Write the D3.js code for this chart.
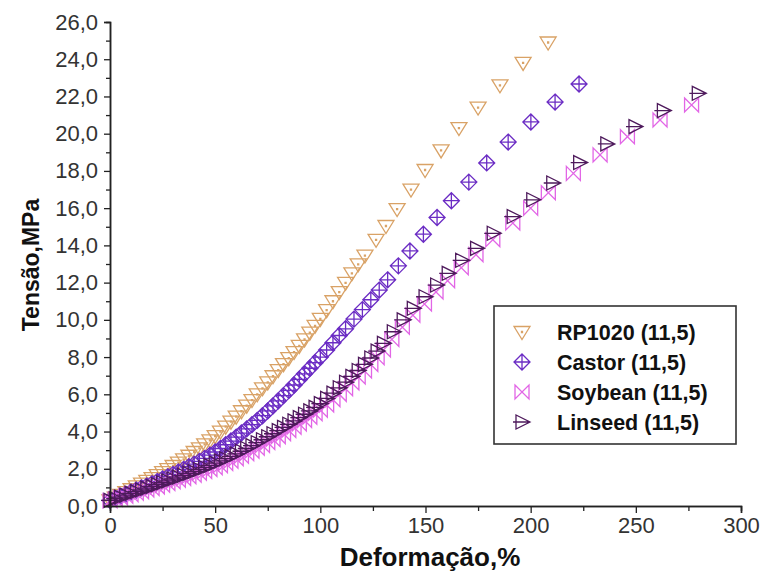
<!DOCTYPE html>
<html>
<head>
<meta charset="utf-8">
<script src="https://cdn.jsdelivr.net/npm/d3@7"></script>
<style>
  html, body { margin: 0; padding: 0; background: #fff; }
  svg { display: block; font-family: "Liberation Sans", Arial, sans-serif; }
</style>
</head>
<body>
<svg id="chart" width="771" height="573"></svg>
<script>
// Stress–strain curves (Tensão in MPa vs Deformação in %)
const strainRP1020 = [0,2.5,5,7.5,10,12.5,15,17.5,20,22.5,25,27.5,30,32.5,35,37.5,40,42.5,45,47.5,50,52.5,55,57.5,60,62.5,65,67.5,70,72.5,75,77.5,80,82.5,85,87.5,90,92.5,95,97.5,100,103,106,109,112,115,118,121.2,126.5,131.2,136.5,143.1,149.8,157.4,165.9,175,185.4,196.4,208.3];
const stressRP1020 = [0.30,0.45,0.60,0.75,0.90,1.05,1.20,1.35,1.50,1.66,1.82,1.98,2.15,2.33,2.51,2.70,2.90,3.10,3.31,3.53,3.75,4.00,4.26,4.53,4.80,5.09,5.39,5.69,6.00,6.32,6.64,6.97,7.30,7.62,7.94,8.27,8.60,8.95,9.31,9.68,10.05,10.52,11.00,11.49,11.99,12.50,12.98,13.45,14.30,15.04,15.95,17.00,18.05,19.10,20.30,21.40,22.60,23.80,24.90];

const strainCastor = [0,2.5,5,7.5,10,12.5,15,17.5,20,22.5,25,27.5,30,32.5,35,37.5,40,42.5,45,47.5,50,52.5,55,57.5,60,62.5,65,67.5,70,72.5,75,77.5,80,82.5,85,87.5,90,92.5,95,97.5,100,103,106,109,112,116,120,124,128,132,137.1,142.6,149,155.5,162.3,170.6,179.1,189.3,200.1,211.6,223];
const stressCastor = [0.30,0.41,0.52,0.63,0.75,0.86,0.97,1.08,1.20,1.32,1.45,1.57,1.70,1.83,1.97,2.11,2.25,2.40,2.56,2.73,2.90,3.09,3.29,3.49,3.70,3.92,4.14,4.37,4.60,4.85,5.11,5.38,5.65,5.93,6.21,6.50,6.80,7.10,7.40,7.70,8.00,8.38,8.77,9.16,9.52,10.04,10.55,11.08,11.60,12.15,12.90,13.70,14.60,15.50,16.40,17.40,18.43,19.55,20.63,21.70,22.67];

const strainSoybean = [0,2.5,5,7.5,10,12.5,15,17.5,20,22.5,25,27.5,30,32.5,35,37.5,40,42.5,45,47.5,50,52.5,55,57.5,60,62.5,65,67.5,70,72.5,75,77.5,80,82.5,85,87.5,90,92.5,95,97.5,100,103,106,109,112,115,118,121,124,127,130,134,139,144,149.5,155,160.5,167,174,182,191.5,200,208.4,220.3,233,246,261.5,276.5];
const stressSoybean = [0.28,0.36,0.44,0.53,0.61,0.69,0.77,0.86,0.94,1.03,1.12,1.21,1.30,1.39,1.48,1.57,1.66,1.76,1.86,1.96,2.06,2.17,2.29,2.41,2.54,2.67,2.81,2.95,3.10,3.25,3.41,3.57,3.73,3.89,4.06,4.23,4.41,4.59,4.77,4.96,5.15,5.43,5.71,6.00,6.30,6.61,6.93,7.26,7.60,7.97,8.38,8.95,9.60,10.25,10.85,11.50,12.10,12.80,13.50,14.30,15.20,16.00,16.83,17.87,18.86,19.84,20.74,21.54];

const strainLinseed = [0,2.5,5,7.5,10,12.5,15,17.5,20,22.5,25,27.5,30,32.5,35,37.5,40,42.5,45,47.5,50,52.5,55,57.5,60,62.5,65,67.5,70,72.5,75,77.5,80,82.5,85,87.5,90,92.5,95,97.5,100,103,106,109,112,115,118,121,124,127,130,134.7,139.4,144.2,149.8,155.3,160.8,167.2,174.3,182.2,191.7,201,210.5,223.3,236.2,249.6,263.1,279.7];
const stressLinseed = [0.30,0.39,0.48,0.58,0.68,0.77,0.86,0.96,1.05,1.15,1.25,1.35,1.45,1.55,1.65,1.75,1.85,1.96,2.07,2.18,2.30,2.42,2.54,2.67,2.80,2.94,3.09,3.24,3.40,3.56,3.72,3.88,4.05,4.22,4.39,4.57,4.75,4.93,5.11,5.30,5.50,5.78,6.06,6.35,6.65,6.96,7.28,7.61,7.95,8.32,8.74,9.36,10.00,10.62,11.24,11.87,12.50,13.20,13.84,14.65,15.55,16.45,17.35,18.45,19.45,20.38,21.24,22.17];

const seriesNames = ["RP1020 (11,5)", "Castor (11,5)", "Soybean (11,5)", "Linseed (11,5)"];
const yTicks = [0,2,4,6,8,10,12,14,16,18,20,22,24,26];
const yMinorTicks = [1,3,5,7,9,11,13,15,17,19,21,23,25];
const xTicks = [0,50,100,150,200,250,300];
const xMinorTicks = [25,75,125,175,225,275];

// Marker outlines, centred on the data point
const markers = {
  triDown: "M-8,-5.5L8,-5.5L0,7.5Z M-0.5,-0.5h1v1h-1Z",
  diamondPlus: "M0,-8L8,0L0,8L-8,0Z M0,-8V8 M-8,0H8",
  bowtie: "M-7,-7L7,7L7,-7L-7,7Z",
  triRight: "M-6,-7L8,0L-6,7Z M-9,0H8"
};

const series = [
  { name: seriesNames[0], x: strainRP1020, y: stressRP1020, color: "#d9a266", marker: markers.triDown },
  { name: seriesNames[1], x: strainCastor, y: stressCastor, color: "#6b2cc4", marker: markers.diamondPlus },
  { name: seriesNames[2], x: strainSoybean, y: stressSoybean, color: "#e266e6", marker: markers.bowtie },
  { name: seriesNames[3], x: strainLinseed, y: stressLinseed, color: "#4e1a5c", marker: markers.triRight }
];

const svg = d3.select("#chart");
const x = d3.scaleLinear().domain([0, 300]).range([110, 741]);
const y = d3.scaleLinear().domain([0, 26]).range([506, 22]);

const fmt = d => d.toFixed(1).replace(".", ",");

// Data markers
series.forEach(s => {
  const pts = s.x.map((v, i) => [v, s.y[i]]);
  svg.append("g")
    .selectAll("path")
    .data(pts)
    .join("path")
    .attr("transform", d => `translate(${x(d[0])},${y(d[1])})`)
    .attr("d", s.marker)
    .attr("fill", "none")
    .attr("stroke", s.color)
    .attr("stroke-width", 1.3);
});

// Axes
const axisColor = "#222";
svg.append("g").attr("transform", `translate(${x(0)},0)`)
  .call(d3.axisLeft(y).tickValues(yTicks).tickFormat(fmt).tickSize(6).tickPadding(6));
svg.append("g").attr("transform", `translate(${x(0)},0)`)
  .call(d3.axisLeft(y).tickValues(yMinorTicks).tickFormat("").tickSize(4));

svg.append("g").attr("transform", `translate(0,${y(0)})`)
  .call(d3.axisBottom(x).tickValues(xTicks).tickFormat(d3.format("d")).tickSize(7).tickPadding(4));
svg.append("g").attr("transform", `translate(0,${y(0)})`)
  .call(d3.axisBottom(x).tickValues(xMinorTicks).tickFormat("").tickSize(5));

svg.selectAll(".domain").attr("stroke", axisColor).attr("stroke-width", 1.5);
svg.selectAll(".tick line").attr("stroke", axisColor).attr("stroke-width", 1.3);
svg.selectAll(".tick text")
  .attr("fill", "#333")
  .style("font-size", "22px")
  .style("font-family", "'Liberation Sans', Arial, sans-serif");

// Axis titles
svg.append("text")
  .attr("x", 430).attr("y", 566)
  .attr("text-anchor", "middle")
  .style("font-size", "26px").style("font-weight", "bold")
  .attr("fill", "#111")
  .text("Deformação,%");

svg.append("text")
  .attr("transform", "translate(39,265) rotate(-90)")
  .attr("text-anchor", "middle")
  .style("font-size", "23px").style("font-weight", "bold")
  .attr("fill", "#111")
  .text("Tensão,MPa");

// Legend
const legend = svg.append("g");
legend.append("rect")
  .attr("x", 494).attr("y", 306).attr("width", 242).attr("height", 138)
  .attr("fill", "#fff").attr("stroke", "#333").attr("stroke-width", 1.6);
series.forEach((s, i) => {
  const ly = 332 + i * 30;
  legend.append("path")
    .attr("transform", `translate(522,${ly})`)
    .attr("d", s.marker)
    .attr("fill", "none").attr("stroke", s.color).attr("stroke-width", 1.3);
  legend.append("text")
    .attr("x", 557).attr("y", ly + 7.5)
    .style("font-size", "21.5px").style("font-weight", "bold")
    .attr("fill", "#111")
    .text(s.name);
});
</script>
</body>
</html>
